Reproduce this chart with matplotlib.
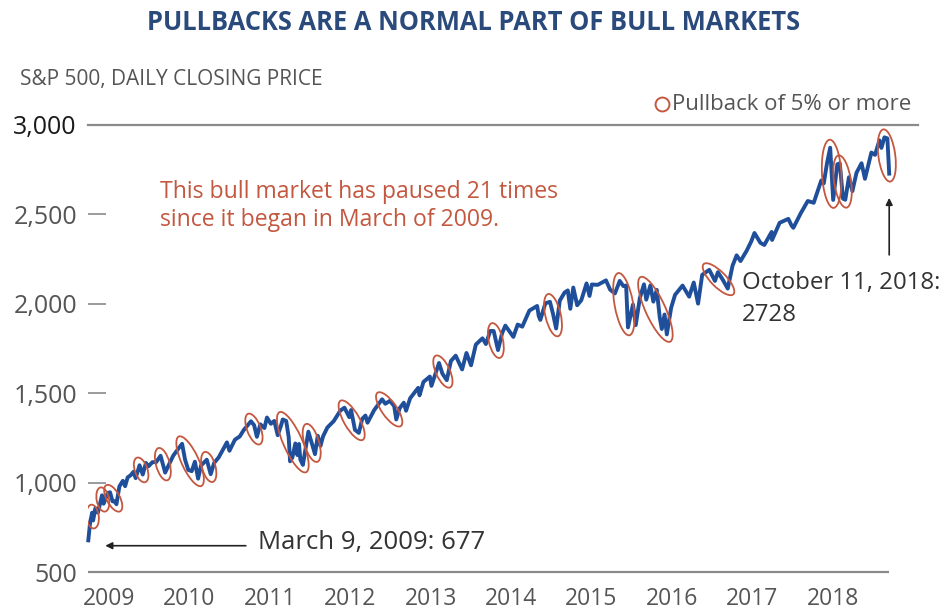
import numpy as np
import pandas as pd
import matplotlib
matplotlib.use('Agg')
import matplotlib.pyplot as plt
from matplotlib.patches import Ellipse
from matplotlib.transforms import IdentityTransform

plt.rcParams['font.family'] = ['Open Sans', 'DejaVu Sans']

# S&P 500 closes, roughly two to three points a month
dates = [
    '2009-03-09', '2009-03-17', '2009-03-26', '2009-03-30', '2009-04-09', '2009-04-20', '2009-05-08', '2009-05-15',
    '2009-06-02', '2009-06-12', '2009-06-23', '2009-07-02', '2009-07-10', '2009-07-23', '2009-08-07', '2009-08-17',
    '2009-08-28', '2009-09-11', '2009-09-23', '2009-10-02', '2009-10-19', '2009-11-02', '2009-11-16', '2009-11-27',
    '2009-12-14', '2009-12-31',
    '2010-01-19', '2010-02-08', '2010-02-25', '2010-03-15', '2010-04-05', '2010-04-23', '2010-05-06', '2010-05-20',
    '2010-06-04', '2010-06-18', '2010-07-02', '2010-07-15', '2010-08-09', '2010-08-26', '2010-09-10', '2010-09-30',
    '2010-10-15', '2010-11-05', '2010-11-16', '2010-12-10', '2010-12-31',
    '2011-01-18', '2011-02-18', '2011-03-04', '2011-03-16', '2011-03-31', '2011-04-18', '2011-04-29', '2011-05-16',
    '2011-05-31', '2011-06-15', '2011-06-30', '2011-07-07', '2011-07-22', '2011-08-02', '2011-08-08', '2011-08-18',
    '2011-08-31', '2011-09-09', '2011-09-16', '2011-09-22', '2011-10-03', '2011-10-27', '2011-11-09', '2011-11-25',
    '2011-12-07', '2011-12-19', '2011-12-30',
    '2012-01-18', '2012-02-15', '2012-03-15', '2012-04-02', '2012-04-23', '2012-05-01', '2012-05-18', '2012-06-04',
    '2012-06-19', '2012-07-03', '2012-07-12', '2012-08-10', '2012-09-14', '2012-09-28', '2012-10-18', '2012-11-06',
    '2012-11-15', '2012-11-30', '2012-12-18', '2012-12-28',
    '2013-01-15', '2013-02-19', '2013-02-25', '2013-03-14', '2013-04-11', '2013-04-18', '2013-05-21', '2013-06-05',
    '2013-06-24', '2013-07-12', '2013-08-02', '2013-08-30', '2013-09-18', '2013-10-08', '2013-10-29', '2013-11-27',
    '2013-12-12', '2013-12-31',
    '2014-01-15', '2014-02-03', '2014-02-21', '2014-03-07', '2014-04-11', '2014-04-30', '2014-05-20', '2014-06-20',
    '2014-07-24', '2014-07-31', '2014-08-07', '2014-08-29', '2014-09-18', '2014-10-01', '2014-10-15', '2014-10-31',
    '2014-11-21', '2014-12-05', '2014-12-16', '2014-12-29',
    '2015-01-15', '2015-02-02', '2015-02-25', '2015-03-10', '2015-03-20', '2015-04-15', '2015-05-21', '2015-06-08',
    '2015-06-29', '2015-07-20', '2015-08-05', '2015-08-17', '2015-08-25', '2015-09-16', '2015-09-28', '2015-10-16',
    '2015-11-03', '2015-11-13', '2015-12-01', '2015-12-14', '2015-12-29',
    '2016-01-11', '2016-01-20', '2016-02-01', '2016-02-11', '2016-03-01', '2016-03-18', '2016-04-20', '2016-05-19',
    '2016-06-08', '2016-06-27', '2016-07-15', '2016-08-15', '2016-09-09', '2016-09-22', '2016-10-14', '2016-11-04',
    '2016-11-25', '2016-12-13', '2016-12-30',
    '2017-01-26', '2017-02-15', '2017-03-01', '2017-03-27', '2017-04-13', '2017-05-15', '2017-05-17', '2017-06-19',
    '2017-07-27', '2017-08-10', '2017-08-18', '2017-09-20', '2017-10-20', '2017-11-15', '2017-12-18', '2017-12-29',
    '2018-01-12', '2018-01-26', '2018-02-08', '2018-02-26', '2018-03-09', '2018-03-23', '2018-04-02', '2018-04-18',
    '2018-05-03', '2018-05-21', '2018-06-12', '2018-06-27', '2018-07-25', '2018-08-10', '2018-08-29', '2018-09-07',
    '2018-09-20', '2018-10-03', '2018-10-11',
]
closes = [
    677, 778, 832, 788, 857, 832, 929, 882,
    942, 946, 895, 896, 879, 979, 1010, 980,
    1029, 1042, 1061, 1025, 1097, 1045, 1110, 1091,
    1114, 1115,
    1150, 1056, 1102, 1150, 1187, 1217, 1128, 1071,
    1064, 1117, 1022, 1096, 1128, 1047, 1110, 1141,
    1176, 1225, 1178, 1240, 1258,
    1295, 1343, 1321, 1256, 1326, 1305, 1364, 1329,
    1345, 1265, 1321, 1353, 1345, 1254, 1119, 1140,
    1219, 1154, 1216, 1129, 1099, 1285, 1229, 1159,
    1262, 1205, 1258,
    1308, 1344, 1403, 1419, 1366, 1406, 1295, 1278,
    1357, 1375, 1335, 1405, 1466, 1441, 1457, 1428,
    1353, 1416, 1447, 1402,
    1472, 1530, 1488, 1563, 1593, 1541, 1669, 1609,
    1573, 1680, 1710, 1633, 1725, 1656, 1772, 1807,
    1775, 1848,
    1848, 1741, 1836, 1878, 1815, 1884, 1872, 1962,
    1988, 1931, 1910, 2003, 2011, 1946, 1862, 2018,
    2063, 2075, 1972, 2091,
    1992, 2020, 2114, 2044, 2108, 2106, 2131, 2079,
    2058, 2128, 2099, 2102, 1868, 1996, 1881, 2033,
    2109, 2023, 2103, 2012, 2078,
    1923, 1859, 1940, 1829, 1978, 2050, 2102, 2040,
    2119, 2001, 2162, 2190, 2128, 2177, 2133, 2085,
    2213, 2271, 2239,
    2297, 2349, 2396, 2341, 2329, 2402, 2357, 2453,
    2475, 2438, 2425, 2508, 2575, 2565, 2690, 2674,
    2786, 2873, 2581, 2780, 2786, 2588, 2582, 2708,
    2630, 2733, 2786, 2699, 2846, 2833, 2914, 2872,
    2931, 2925, 2728,
]

# pullbacks of 5% or more: start and end of each drop
pull_from = ['2009-03-26', '2009-05-08', '2009-06-12', '2009-10-19', '2010-01-19', '2010-04-23', '2010-08-09',
             '2011-02-18', '2011-07-07', '2011-10-27', '2012-04-02', '2012-09-14', '2013-05-21', '2014-01-15',
             '2014-09-18', '2015-07-20', '2015-11-03', '2016-08-15', '2018-01-26', '2018-03-09', '2018-09-20']
pull_to = ['2009-03-30', '2009-05-15', '2009-07-10', '2009-11-02', '2010-02-08', '2010-07-02', '2010-08-26',
           '2011-03-16', '2011-10-03', '2011-11-25', '2012-06-04', '2012-11-15', '2013-06-24', '2014-02-03',
           '2014-10-15', '2015-08-25', '2016-02-11', '2016-11-04', '2018-02-08', '2018-04-02', '2018-10-11']

years = ['2009', '2010', '2011', '2012', '2013', '2014', '2015', '2016', '2017', '2018']
yticks = [500, 1000, 1500, 2000, 2500, 3000]

blue = '#1f4f9a'
red = '#c3573f'
grey = '#555555'


def year_frac(d):
    d = pd.to_datetime(d)
    return d.year + (d.dayofyear - 1) / (366 if d.is_leap_year else 365)


x = np.array([year_frac(d) for d in dates])
y = np.array(closes, dtype=float)
lookup = dict(zip(dates, closes))

fig = plt.figure(figsize=(9.48, 6.13), dpi=100)
ax = fig.add_axes([88 / 948, 41 / 613, 830 / 948, 447 / 613])
ax.set_xlim(2009.18, 2009.18 + 830 / 83.5)
ax.set_ylim(500, 3000)

for s in ax.spines.values():
    s.set_visible(False)

ax.axhline(3000, color='#8a8a8a', lw=1.6, zorder=1, clip_on=False)
ax.hlines(500, ax.get_xlim()[0], x[-1], color='#8a8a8a', lw=1.6, zorder=1, clip_on=False)

ax.plot(x, y, color=blue, lw=2.8, solid_joinstyle='round', zorder=3, clip_on=False)

ax.set_yticks(yticks)
ax.set_yticklabels(['{:,}'.format(v) for v in yticks])
ax.tick_params(axis='y', direction='in', length=13, width=1.2, color='#8a8a8a',
               pad=8, labelsize=18, labelcolor=grey)
ax.get_yticklabels()[-1].set_color('#1a1a1a')

# year labels sit a little past each January, evenly spread
ax.set_xticks(np.linspace(2009.43, 2018.10, len(years)))
ax.set_xticklabels(years)
ax.tick_params(axis='x', length=0, pad=11, labelsize=16.5, labelcolor=grey)

# circle every pullback: ellipse laid along the drop in screen space
fig.canvas.draw()
for a, b in zip(pull_from, pull_to):
    p1 = ax.transData.transform((year_frac(a), lookup[a]))
    p2 = ax.transData.transform((year_frac(b), lookup[b]))
    d = p2 - p1
    dist = np.hypot(d[0], d[1])
    ang = np.degrees(np.arctan2(d[1], d[0]))
    e = Ellipse((p1 + p2) / 2, dist + 16, 11 + 0.16 * dist, angle=ang,
                transform=IdentityTransform(), fill=False, ec=red, lw=1.3, zorder=4)
    ax.add_artist(e)

# legend marker
ax.plot([0.691], [1.047], marker='o', ms=10, mfc='none', mec=red, mew=1.4,
        transform=ax.transAxes, clip_on=False)
fig.text(672 / 948, 1 - 105 / 613, 'Pullback of 5% or more', fontsize=16, color=grey,
         ha='left', va='center')

# start and latest points
i_low = int(np.argmin(y))
ax.annotate('', xy=(x[i_low] + 0.17, y[i_low] - 30), xytext=(x[i_low] + 1.92, y[i_low] - 30),
            arrowprops=dict(arrowstyle='-|>', color='#222222', lw=1.2, mutation_scale=10))
fig.text(258 / 948, 1 - 543 / 613, 'March 9, 2009: {}'.format(int(y[i_low])), fontsize=18.5,
         color='#333333', ha='left', va='center')

ax.annotate('', xy=(x[-1], y[-1] - 120), xytext=(x[-1], y[-1] - 470),
            arrowprops=dict(arrowstyle='-|>', color='#222222', lw=1.2, mutation_scale=10))
fig.text(742 / 948, 1 - 299 / 613, 'October 11, 2018:\n{}'.format(int(y[-1])), fontsize=17.3,
         color='#333333', ha='left', va='center', linespacing=1.4)

fig.text(160 / 948, 1 - 206 / 613, 'This bull market has paused {} times\nsince it began in March of 2009.'
         .format(len(pull_from)), fontsize=16.6, color=red, ha='left', va='center', linespacing=1.25)

fig.text(0.5, 1 - 22 / 613, 'PULLBACKS ARE A NORMAL PART OF BULL MARKETS', fontsize=18.4,
         fontweight='bold', color='#2a4a7c', ha='center', va='center')
fig.text(20 / 948, 1 - 80 / 613, 'S&P 500, DAILY CLOSING PRICE', fontsize=15, color=grey,
         ha='left', va='center')

fig.savefig('out.png', dpi=100, facecolor='white')
